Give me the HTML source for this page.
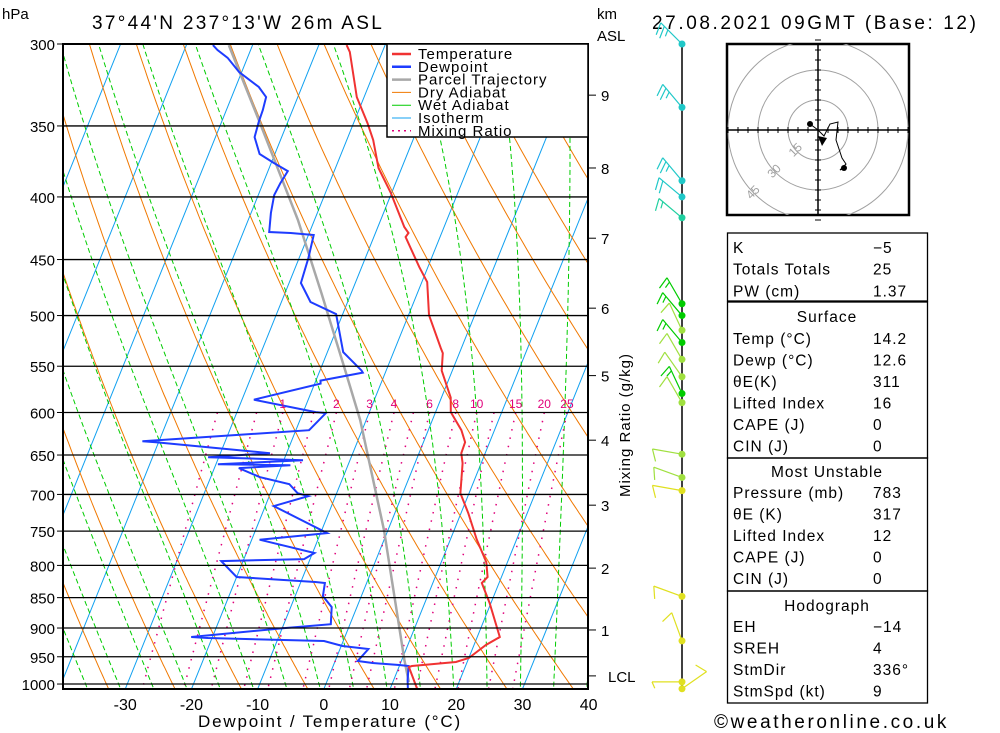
<!DOCTYPE html>
<html><head><meta charset="utf-8"><style>
body{margin:0;background:#fff;}
svg{display:block;font-family:"Liberation Sans",sans-serif;}
</style></head><body>
<svg id="c" width="1000" height="733" viewBox="0 0 1000 733">
<defs><clipPath id="pc"><rect x="63" y="44" width="525" height="645"/></clipPath></defs>
<g id="bg" clip-path="url(#pc)"></g>
<g id="series" clip-path="url(#pc)"></g>
<g id="axes"></g>
<g id="wind"></g>
<g id="hodo"></g>
<g id="tbl"></g>
</svg>
<script>
// ---- data ----
const tempP=[300.6,304.5,331.5,348.1,359.4,378.8,397.1,423.3,428.1,431.3,456.4,469.4,499.6,531.6,536.6,554.5,583.4,599.6,620.3,634.5,647.8,660.1,698.4,725.2,762.3,795.0,817.6,826.9,858.6,915.3,929.2,952.2,959.4,966.6,968.4,1009.4];
const tempT=[-35.8,-34.9,-31.1,-27.9,-26.0,-23.5,-20.1,-16.0,-15.0,-15.2,-11.3,-9.2,-6.9,-3.1,-2.5,-1.6,1.4,2.3,5.0,6.3,6.4,7.2,8.7,11.1,14.0,16.8,17.9,17.4,19.8,23.4,21.8,20.0,18.3,11.9,11.5,14.1];
const dewP=[300.6,303.4,307.9,316.2,325.3,331.5,339.7,347.4,357.4,369.0,375.3,381.0,389.7,398.6,412.3,427.3,428.1,429.7,448.7,470.3,487.4,498.6,535.6,554.5,556.6,565.1,568.3,585.7,599.6,600.7,620.3,633.3,634.5,647.8,652.7,656.3,661.3,662.5,666.2,677.6,686.6,698.4,702.2,715.6,752.8,762.3,781.6,790.5,793.5,817.6,825.4,826.9,847.5,865.3,893.5,900.2,915.3,917.1,922.3,931.0,936.3,957.6,961.2,964.9,966.6,992.5,1009.4];
const dewT=[-56.0,-55.0,-53.0,-50.4,-46.5,-44.8,-44.5,-44.4,-44.1,-42.3,-39.6,-37.0,-37.4,-37.6,-37.0,-36.1,-32.8,-29.2,-28.6,-28.2,-25.6,-21.0,-17.6,-13.7,-13.4,-19.3,-19.1,-28.2,-18.1,-16.5,-18.0,-42.5,-40.4,-22.5,-31.6,-17.1,-29.7,-18.7,-26.3,-22.6,-17.7,-15.9,-14.1,-18.7,-9.0,-18.8,-9.7,-10.9,-23.3,-20.0,-7.8,-6.3,-5.8,-3.8,-2.9,-9.7,-23.2,-20.6,-2.9,0.2,4.3,3.4,5.8,9.9,11.4,12.1,12.7];
const parcelP=[300.6,346.1,417.7,479.2,552.3,608.7,748.6,955.8,996.2];
const parcelT=[-53.6,-44.5,-32.5,-24.5,-16.4,-10.9,-0.6,10.4,12.4];
const pressureTicks=[300,350,400,450,500,550,600,650,700,750,800,850,900,950,1000];
const tempTicks=[-30,-20,-10,0,10,20,30,40];
const kmLabels=["9","8","7","6","5","4","3","2","1","LCL"];
const kmP=[330.3,378.8,432.3,493.1,559.8,632.1,714.3,804.1,903.3,984.8];
const mixRatios=[0.4,0.7,1,1.5,2,3,4,5,6,8,10,12,15,20,25];
const mixLabels=[1,2,3,4,6,8,10,15,20,25];
const windP=[300,338,388,400,416,489,500,514,526,543,561,579,589,649,678,695,848,922,996,1009];
const windDir=[315,320,320,310,310,330,320,335,320,330,325,335,330,280,290,280,290,340,270,55];
const windSpd=[25,25,25,20,15,15,15,10,15,10,10,15,10,10,10,10,10,10,5,10];
const windCol=["#20c8c8","#20c8c8","#20c8c8","#20c8c8","#20d0a0","#00cc00","#00cc00","#a0e040","#00cc00","#a0e040","#a0e040","#00cc00","#a0e040","#a0e040","#a0e040","#e0e020","#e0e020","#e0e020","#e0e020","#e0e020"];
const hodoU=[-4,0,3,6,10,9,11,12,14,11,13];
const hodoV=[3,0,-3,3,4,-5,-11,-14,-17,-20,-19];

const NS="http://www.w3.org/2000/svg";
function el(tag,attrs,parent){const e=document.createElementNS(NS,tag);for(const k in attrs)e.setAttribute(k,attrs[k]);parent.appendChild(e);return e;}
const yP=p=>44+531.6*Math.log(p/300);
const xT=(T,p)=>60+(317+6.4*T+0.39*(684-yP(p))-60)*1.0345;
const bg=document.getElementById('bg'),ser=document.getElementById('series'),ax=document.getElementById('axes');
function poly(ps,ts,attrs,parent,name){const pts=ps.map((p,i)=>xT(ts[i],p).toFixed(1)+','+yP(p).toFixed(1)).join(' ');const e=el('polyline',Object.assign({points:pts,fill:'none'},attrs),parent);return e;}
const plev=[];for(let p=290;p<=1020;p+=5)plev.push(p);
for(let T=-120;T<=50;T+=10){poly([250,1020],[T,T],{stroke:'#10a0f0','stroke-width':1},bg,'isotherm');}
for(let th=220;th<=500;th+=10){poly(plev,plev.map(p=>th*Math.pow(p/1000,0.286)-273.15),{stroke:'#f07800','stroke-width':1},bg,'dry-adiabat');}
function es(T){return 6.112*Math.exp(17.67*T/(T+243.5));}
for(let T0=-40;T0<=40;T0+=5){const ps=[],ts=[];let T=T0+273.15;for(let p=1020;p>=290;p-=5){ps.push(p);ts.push(T-273.15);const e=es(T-273.15),rs=0.622*e/(p-e);const dT=(287*T+2.5e6*rs)/(1004+2.5e6*2.5e6*rs*0.622/(287*T*T))/p;T-=dT*5;}
poly(ps,ts,{stroke:'#00cc00','stroke-width':1,'stroke-dasharray':'5,3'},bg,'wet-adiabat');}
function mrT(w,p){const e=w*p/(622+w);const l=Math.log(e/6.112);return 243.5*l/(17.67-l);}
const mp=[];for(let p=600;p<=1020;p+=10)mp.push(p);
mixRatios.forEach(w=>{poly(mp,mp.map(p=>mrT(w,p)),{stroke:'#e0007a','stroke-width':1.5,'stroke-dasharray':'1.5,7'},bg,'mixing-ratio-line');});
pressureTicks.forEach(p=>{const l=el('line',{x1:63,x2:588,y1:yP(p),y2:yP(p),stroke:'#000','stroke-width':1.3},ax);
const t=el('text',{x:55,y:yP(p)+6,'text-anchor':'end','font-size':15},ax);t.textContent=p;
el('line',{x1:57,x2:63,y1:yP(p),y2:yP(p),stroke:'#000'},ax);});
mixLabels.forEach(w=>{const t=el('text',{x:xT(mrT(w,600),600),y:408,'text-anchor':'middle','font-size':12,fill:'#e0007a'},ax);t.textContent=w;});
poly(parcelP,parcelT,{stroke:'#a8a8a8','stroke-width':2.5},ser,'parcel-trajectory');
poly(dewP,dewT,{stroke:'#1e3cff','stroke-width':2},ser,'dewpoint-line');
poly(tempP,tempT,{stroke:'#f03232','stroke-width':2},ser,'temperature-line');
el('rect',{x:63,y:44,width:525,height:645,fill:'none',stroke:'#000','stroke-width':2},ax);
tempTicks.forEach(T=>{const x=xT(T,1009.4);const t=el('text',{x:x,y:710,'text-anchor':'middle','font-size':16},ax);t.textContent=T;});
kmP.forEach((p,i)=>{const y=yP(p);el('line',{x1:588,x2:596,y1:y,y2:y,stroke:'#000'},ax);const t=el('text',{x:i==9?608:601,y:y+6,'font-size':15},ax);t.textContent=kmLabels[i];});
function txt(s,x,y,fs,name,extra){const t=el('text',Object.assign({x:x,y:y,'font-size':fs},extra||{}),ax);t.textContent=s;return t;}
txt('hPa',2,19,15,'y-axis-unit');
txt("37°44'N  237°13'W  26m  ASL",92,29,19,'location-title',{'letter-spacing':'2.3'});
txt('km',597,19,15,'km-unit');txt('ASL',597,41,15,'km-unit-asl');
txt('27.08.2021  09GMT  (Base:  12)',652,29,19,'date-title',{'letter-spacing':'2.6'});
txt('Dewpoint  /  Temperature  (°C)',330,727,17,'x-axis-title',{'text-anchor':'middle','letter-spacing':'1.8'});
txt('Mixing Ratio (g/kg)',0,0,15,'mixing-ratio-title',{transform:'translate(630,425) rotate(-90)','text-anchor':'middle','letter-spacing':'1'});
txt('©weatheronline.co.uk',714,728,19,'copyright',{'letter-spacing':'2.6'});
el('rect',{x:387,y:44,width:201,height:93,fill:'#fff',stroke:'#000','stroke-width':1.5},ax);
[['Temperature','#f03232',2.5,''],['Dewpoint','#1e3cff',2.5,''],['Parcel Trajectory','#a8a8a8',2.5,''],['Dry Adiabat','#f07800',1,''],['Wet Adiabat','#00cc00',1,''],['Isotherm','#10a0f0',1,''],['Mixing Ratio','#e0007a',1.5,'2,4']].forEach((d,i)=>{const y=54+i*12.8;
const l=el('line',{x1:392,x2:411,y1:y,y2:y,stroke:d[1],'stroke-width':d[2],'stroke-dasharray':d[3]||'none'},ax);
txt(d[0],418,y+5,15,'legend-entry',{'letter-spacing':'1'});});
const wg=document.getElementById('wind');
el('line',{x1:682,x2:682,y1:44,y2:690,stroke:'#000','stroke-width':1.5},wg);
windP.forEach((p,i)=>{const y=yP(Math.min(p,1011));const a=windDir[i]*Math.PI/180;const L=30;const ux=Math.sin(a),uy=-Math.cos(a);
const ex=682+ux*L,ey=y+uy*L;const c=windCol[i];
const s=el('line',{x1:682,y1:y,x2:ex,y2:ey,stroke:c,'stroke-width':1.2},wg);
let spd=windSpd[i],k=0;const px=-uy,py=ux;
while(spd>=5){const full=spd>=10;const len=full?13:7;const bx=ex-ux*k*5,by=ey-uy*k*5;
el('line',{x1:bx,y1:by,x2:bx+(px*0.9+ux*0.4)*len*-1,y2:by+(py*0.9+uy*0.4)*len*-1,stroke:c,'stroke-width':1.2},wg);spd-=full?10:5;k++;}
const d=el('circle',{cx:682,cy:y,r:3.5,fill:c},wg);});
const hg=document.getElementById('hodo');const cx=818,cy=130,sc=2;
el('rect',{x:727,y:44,width:182,height:171,fill:'#fff',stroke:'#000','stroke-width':2.5},hg);
const cp=el('clipPath',{id:'hc'},hg);el('rect',{x:727,y:44,width:182,height:171},cp);
const hc=el('g',{'clip-path':'url(#hc)'},hg);
[15,30,45].forEach(r=>el('circle',{cx:cx,cy:cy,r:r*sc,fill:'none',stroke:'#a0a0a0','stroke-width':1},hc));
el('line',{x1:727,x2:909,y1:cy,y2:cy,stroke:'#000','stroke-width':1.5},hg);el('line',{x1:cx,x2:cx,y1:44,y2:215,stroke:'#000','stroke-width':1.5},hg);
for(let k=-45;k<=45;k+=5){if(!k)continue;el('line',{x1:cx+k*sc,x2:cx+k*sc,y1:cy-3,y2:cy+3,stroke:'#000'},hg);el('line',{x1:cx-3,x2:cx+3,y1:cy+k*sc,y2:cy+k*sc,stroke:'#000'},hg);}
[['15',15],['30',30],['45',45]].forEach(d=>{const a=Math.PI*0.75;const t=el('text',{x:cx+Math.cos(a)*d[1]*sc,y:cy+Math.sin(a)*d[1]*sc+2,'font-size':12,fill:'#a0a0a0','text-anchor':'middle',transform:`rotate(-45 ${cx+Math.cos(a)*d[1]*sc} ${cy+Math.sin(a)*d[1]*sc})`},hg);t.textContent=d[0];});
txt('kt',732,58,12,'hodograph-unit');
const hp=el('polyline',{points:hodoU.map((u,i)=>(cx+u*sc)+','+(cy-hodoV[i]*sc)).join(' '),fill:'none',stroke:'#000','stroke-width':1},hg);
el('circle',{cx:cx+hodoU[0]*sc,cy:cy-hodoV[0]*sc,r:3,fill:'#000'},hg);el('circle',{cx:cx+hodoU[hodoU.length-1]*sc,cy:cy-hodoV[hodoV.length-1]*sc,r:3,fill:'#000'},hg);
el('polygon',{points:`${cx},${cy+6} ${cx+9},${cy+8} ${cx+4},${cy+16}`,fill:'#000'},hg);
const tg=document.getElementById('tbl');
function box(y1,y2){el('rect',{x:727.5,y:y1,width:200,height:y2-y1,fill:'none',stroke:'#000','stroke-width':1.3},tg);}
box(233,301);box(302,458);box(458,591);box(591,703);
function row(a,b,y,center){const t=el('text',{x:center?827:733,y:y,'font-size':15.5,'text-anchor':center?'middle':'start','letter-spacing':'1'},tg);t.textContent=a;
if(b!==null){const v=el('text',{x:873,y:y,'font-size':15.5,'letter-spacing':'1'},tg);v.textContent=b;}}
[['K','−5'],['Totals Totals','25'],['PW (cm)','1.37']].forEach((r,i)=>row(r[0],r[1],253+i*21.7));
row('Surface',null,322,true);
[['Temp (°C)','14.2'],['Dewp (°C)','12.6'],['θE(K)','311'],['Lifted Index','16'],['CAPE (J)','0'],['CIN (J)','0']].forEach((r,i)=>row(r[0],r[1],344+i*21.5));
row('Most Unstable',null,477,true);
[['Pressure (mb)','783'],['θE (K)','317'],['Lifted Index','12'],['CAPE (J)','0'],['CIN (J)','0']].forEach((r,i)=>row(r[0],r[1],498+i*21.5));
row('Hodograph',null,611,true);
[['EH','−14'],['SREH','4'],['StmDir','336°'],['StmSpd (kt)','9']].forEach((r,i)=>row(r[0],r[1],632+i*21.5));
</script>
</body></html>
